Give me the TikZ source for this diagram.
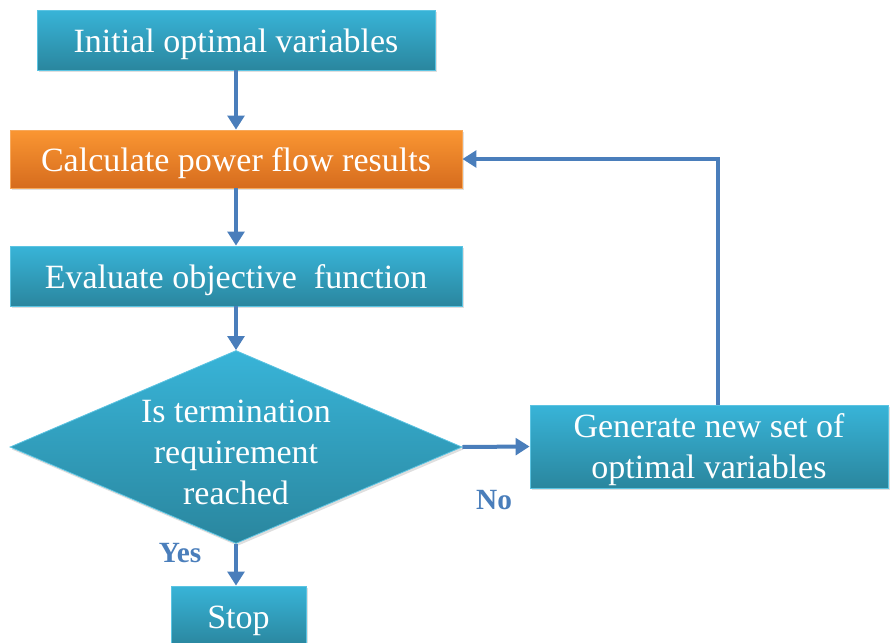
\documentclass[tikz,border=0pt]{standalone}
\usepackage{fontspec}
\setmainfont{Liberation Serif}
\usetikzlibrary{shapes.geometric,arrows.meta,shadows}

\begin{document}
\begin{tikzpicture}[
    x=0.75pt, y=-0.75pt,
    stepbox/.style={
        rectangle, draw=colEdge, line width=0.6pt, top color=colTop, bottom color=colBot,
        text=white, align=center, inner sep=0pt,
        font=\fontsize{25.5}{30.75}\selectfont,
        execute at begin node={\rule{0pt}{23.5pt}},
        drop shadow={opacity=0.25, shadow xshift=1.2pt, shadow yshift=-1.8pt}
    },
    hotbox/.style={
        stepbox, draw=colOrgEdge, top color=colOrgTop, bottom color=colOrgBot
    },
    decision/.style={
        stepbox, diamond, shape aspect=2.34, inner sep=-4pt
    },
    flow/.style={
        draw=colArrow, line width=3pt, -{Triangle[width=12.5pt,length=10.5pt]}
    },
    answer/.style={text=colArrow, font=\fontsize{22}{26}\selectfont\bfseries}
]

% ============================
% COLOURS
% ============================
\definecolor{colTop}{HTML}{38B4D8}      % cyan top
\definecolor{colBot}{HTML}{2A869E}      % teal bottom
\definecolor{colEdge}{HTML}{5CC4E2}
\definecolor{colOrgTop}{HTML}{FA9632}   % orange top
\definecolor{colOrgBot}{HTML}{D66C1E}   % orange bottom
\definecolor{colOrgEdge}{HTML}{F7A85A}
\definecolor{colArrow}{HTML}{4A7EBB}

\useasboundingbox (0,0) rectangle (890,643);

% ============================
% MAIN COLUMN
% ============================
\node[stepbox, minimum width=298.5pt, minimum height=45pt] (init) at (236,40) {Initial optimal variables};
\node[hotbox, minimum width=339pt, minimum height=43.5pt] (calc) at (236,159) {Calculate power flow results};
\node[stepbox, minimum width=339pt, minimum height=45pt] (eval) at (236,276) {Evaluate objective~ function};
\node[decision, minimum width=339pt, minimum height=144.75pt, text height=86pt] (check) at (236,447) {Is termination\\requirement\\reached};
\node[stepbox, minimum width=101.25pt, minimum height=45pt] (stop) at (238.5,616) {Stop};

% --- side branch ---
\node[stepbox, minimum width=268.5pt, minimum height=62.25pt, text height=54pt] (gen) at (709,446.5) {Generate new set of\\optimal variables};

% ============================
% CONNECTORS
% ============================
\draw[flow] (init) -- (calc);
\draw[flow] (calc) -- (eval);
\draw[flow] (eval) -- (check);
\draw[flow] (check.south) -- (check.south |- stop.north);
\draw[flow] (check.east) -- (gen.west);
\draw[flow] ([xshift=6.75pt]gen.north) |- (calc.east);

% --- answers ---
\node[answer] (yes) at (180,553) {Yes};
\node[answer] (no) at (494,500) {No};

\end{tikzpicture}
\end{document}
